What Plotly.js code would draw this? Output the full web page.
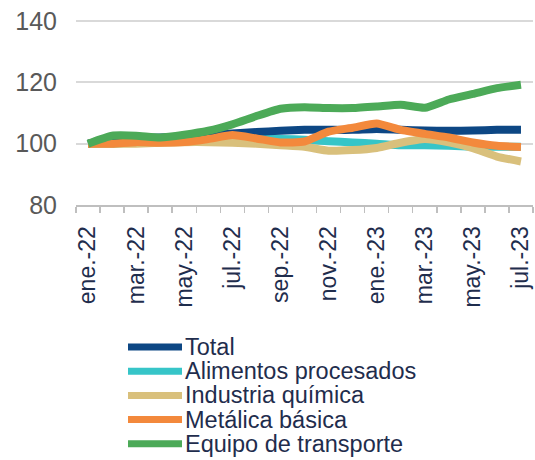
<!DOCTYPE html>
<html>
<head>
<meta charset="utf-8">
<script src="https://cdn.plot.ly/plotly-3.0.1.min.js"></script>
<style>html,body{margin:0;padding:0;background:#fff;}#chart{width:535px;height:460px;}</style>
</head>
<body>
<div id="chart"></div>
<script>
const months = ["ene.-22","feb.-22","mar.-22","abr.-22","may.-22","jun.-22","jul.-22","ago.-22","sep.-22","oct.-22","nov.-22","dic.-22","ene.-23","feb.-23","mar.-23","abr.-23","may.-23","jun.-23","jul.-23"];
const total      = [100,101.5,101.8,102,102.3,102.8,103.3,103.8,104.2,104.5,104.5,104.5,104.8,104.5,104.3,104.2,104.3,104.5,104.5];
const alimentos  = [100,100,100.5,100.5,101,101.5,101.8,101.5,101.5,101.3,100.8,100.4,100,99.5,99.5,99.3,99,99,99];
const quimica    = [100,100,100,100.3,100.5,100.5,100.3,100,99.5,99,97.7,97.9,98.6,100.3,101.5,100.4,98.5,95.8,94.2];
const metalica   = [100,100,100.5,100.3,100.5,101.5,102.8,101.7,100.4,100.7,103.9,105.2,106.6,104.5,103.2,102,100.4,99.3,98.9];
const transporte = [100,102.6,102.6,102,102.9,104.2,106.3,109,111.4,111.9,111.6,111.6,112.1,112.7,111.7,114.4,116.2,118.1,119.2];
const seriesNames = ["Total","Alimentos procesados","Industria química","Metálica básica","Equipo de transporte"];
const seriesColors = ['#0d4784','#36c5c8','#d9c07c','#f3893c','#4caa58'];
const yTicks = [80,100,120,140];

const W = 535, H = 460, ML = 76, MR = 2, MT = 19, MB = 255;
const PW = W - ML - MR, PH = H - MT - MB;
const px2x = p => (p - ML) / PW;
const py2y = p => (H - MB - p) / PH;

const xIdx = months.map((_, i) => i);
const tickIdx = xIdx.filter(i => i % 2 === 0);
const tickTxt = tickIdx.map(i => months[i]);

function tr(y, k) {
  return {x: xIdx, y: y, name: seriesNames[k], type: 'scatter', mode: 'lines',
          line: {color: seriesColors[k], width: 8, shape: 'spline', smoothing: 0.5},
          hoverinfo: 'skip'};
}
const data = [tr(alimentos, 1), tr(quimica, 2), tr(total, 0), tr(metalica, 3), tr(transporte, 4)];

// manual legend (layout only)
const legY0 = 347, legDy = 24.2;
const shapes = [], annotations = [];
seriesNames.forEach((n, k) => {
  const yy = py2y(legY0 + k * legDy);
  shapes.push({type: 'line', xref: 'paper', yref: 'paper', x0: px2x(128), x1: px2x(182), y0: yy, y1: yy,
               line: {color: seriesColors[k], width: 7}});
  annotations.push({xref: 'paper', yref: 'paper', x: px2x(184), y: yy, xanchor: 'left', yanchor: 'middle',
                    text: n, showarrow: false, borderpad: 0, font: {size: 23.5, color: '#1f2d4d'}});
});

const layout = {
  width: W, height: H,
  margin: {l: ML, r: MR, t: MT, b: MB},
  paper_bgcolor: '#fff', plot_bgcolor: '#fff',
  font: {family: 'Liberation Sans, Arial, sans-serif'},
  showlegend: false,
  shapes: shapes, annotations: annotations,
  xaxis: {range: [-0.5, 18.5], tickmode: 'array', tickvals: tickIdx, ticktext: tickTxt,
          tickangle: -90, ticks: '', showgrid: false, zeroline: false, automargin: false,
          showline: true, linecolor: '#bfbfbf', linewidth: 2, ticklabelstandoff: 10,
          tickfont: {size: 23, color: '#1f2d4d'},
          minor: {tick0: -0.5, dtick: 1, ticks: 'outside', ticklen: 6, tickcolor: '#bfbfbf', tickwidth: 1.5, showgrid: false}},
  yaxis: {range: [80, 140.65], tickvals: yTicks, ticks: '', showgrid: true, gridcolor: '#d9d9d9', gridwidth: 2,
          zeroline: false, showline: false, automargin: false,
          tickfont: {size: 25, color: '#595959'}, ticklabelstandoff: 18}
};
Plotly.newPlot('chart', data, layout, {staticPlot: true, displayModeBar: false});
</script>
</body>
</html>
